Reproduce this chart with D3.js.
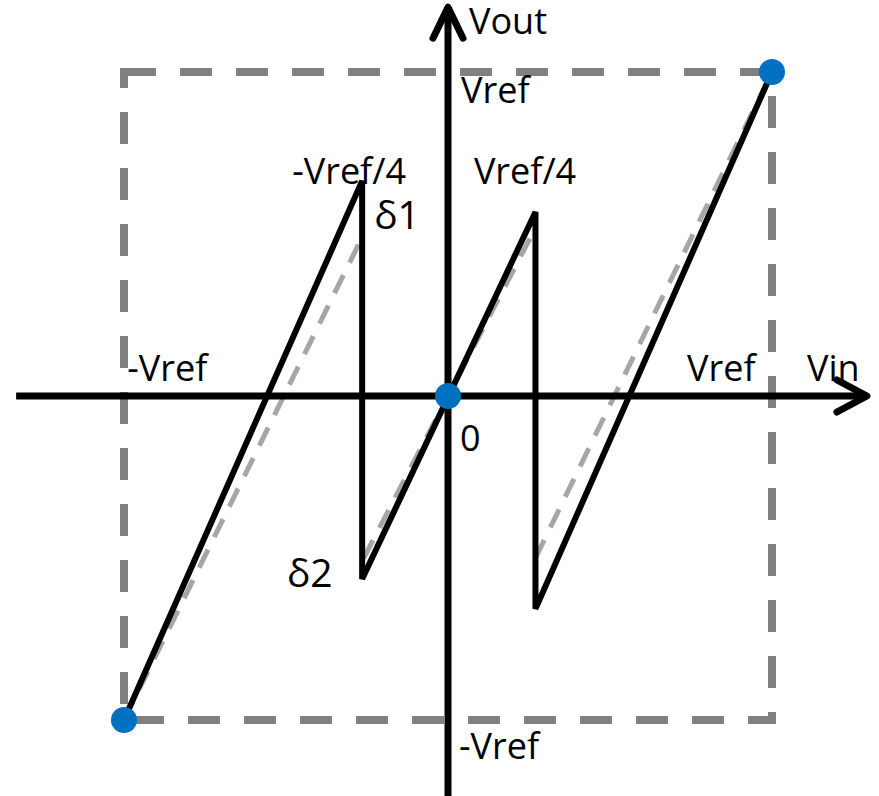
<!DOCTYPE html>
<html>
<head>
<meta charset="utf-8">
<script src="https://cdn.jsdelivr.net/npm/d3@7"></script>
<style>
  html, body { margin: 0; padding: 0; background: #fff; }
  svg { display: block; }
  text { font-family: "Open Sans", "Noto Sans", sans-serif; font-size: 36px; fill: #000; }
  text.delta { font-size: 39px; }
</style>
</head>
<body>
<svg id="chart" width="879" height="796"></svg>
<script>
// Real (non-ideal) residue transfer curve, Vin -> Vout, in units of Vref
const realVin  = [-1, -0.265, -0.265, 0.27, 0.27, 1];
const realVout = [-1, 0.664, -0.565, 0.568, -0.657, 1];

// Ideal residue curve, drawn as three separate segments
const idealVin  = [[-1, -0.265], [-0.26, 0.26], [0.27, 1]];
const idealVout = [[-1, 0.49], [-0.5, 0.5], [-0.5, 1]];

// Marked points on the curve
const dotVin  = [-1, 0, 1];
const dotVout = [-1, 0, 1];

// Axis names and level labels
const axisNames = ["Vin", "Vout"];
const levelLabels = ["Vref", "-Vref", "Vref/4", "-Vref/4", "0"];
const errorLabels = ["δ1", "δ2"];

const svg = d3.select("#chart");

const x = d3.scaleLinear().domain([-1, 1]).range([124, 772]);
const y = d3.scaleLinear().domain([-1, 1]).range([720, 72]);

// Full-scale bounding box
svg.append("rect")
  .attr("x", x(-1)).attr("y", y(1))
  .attr("width", x(1) - x(-1)).attr("height", y(-1) - y(1))
  .attr("fill", "none")
  .attr("stroke", "#808080")
  .attr("stroke-width", 8)
  .attr("stroke-dasharray", "32 24");

const line = d3.line().x(d => x(d[0])).y(d => y(d[1]));

// Ideal curve (dashed gray)
svg.append("g").selectAll("path")
  .data(idealVin.map((xs, i) => xs.map((v, j) => [v, idealVout[i][j]])))
  .join("path")
  .attr("d", line)
  .attr("fill", "none")
  .attr("stroke", "#a6a6a6")
  .attr("stroke-width", 5)
  .attr("stroke-dasharray", "20 14");

// Real curve (solid black)
svg.append("path")
  .datum(realVin.map((v, i) => [v, realVout[i]]))
  .attr("d", line)
  .attr("fill", "none")
  .attr("stroke", "#000")
  .attr("stroke-width", 6);

// Axes with open arrowheads
const axes = svg.append("g")
  .attr("fill", "none")
  .attr("stroke", "#000")
  .attr("stroke-width", 7)
  .attr("stroke-linecap", "round")
  .attr("stroke-linejoin", "round");

const xTip = x(1.293), yTip = y(1.2);
axes.append("line")
  .attr("x1", x(-1.333)).attr("y1", y(0))
  .attr("x2", xTip).attr("y2", y(0))
  .attr("stroke-linecap", "butt");
axes.append("path")
  .attr("d", `M${xTip - 30},${y(0) - 16} L${xTip},${y(0)} L${xTip - 30},${y(0) + 16}`);
axes.append("line")
  .attr("x1", x(0)).attr("y1", y(-1.3))
  .attr("x2", x(0)).attr("y2", yTip)
  .attr("stroke-linecap", "butt");
axes.append("path")
  .attr("d", `M${x(0) - 15},${yTip + 31} L${x(0)},${yTip} L${x(0) + 15},${yTip + 31}`);

// Marked points
svg.append("g").selectAll("circle")
  .data(dotVin.map((v, i) => [v, dotVout[i]]))
  .join("circle")
  .attr("cx", d => x(d[0]))
  .attr("cy", d => y(d[1]))
  .attr("r", 13)
  .attr("fill", "#0070c0");

// Labels
const labels = svg.append("g");
const put = (t, px, py, cls) => labels.append("text")
  .attr("class", cls || null).attr("x", px).attr("y", py).text(t);

put(axisNames[1], x(0) + 21, y(1.2) + 27);          // Vout
put(axisNames[0], x(1.108), y(0) - 15);            // Vin
put(levelLabels[0], x(0) + 13, y(1) + 31);         // Vref (output)
put(levelLabels[1], x(0) + 11, y(-1) + 39);        // -Vref (output)
put(levelLabels[0], x(0.738), y(0) - 15);          // Vref (input)
put(levelLabels[1], x(-0.99), y(0) - 15);          // -Vref (input)
put(levelLabels[3], x(-0.481), y(0.664) + 3);      // -Vref/4
put(levelLabels[2], x(0.08), y(0.664) + 3);        // Vref/4
put(levelLabels[4], x(0) + 12, y(0) + 55);         // 0
put(errorLabels[0], x(-0.228), y(0.515), "delta"); // δ1
put(errorLabels[1], x(-0.497), y(-0.59), "delta"); // δ2
</script>
</body>
</html>
